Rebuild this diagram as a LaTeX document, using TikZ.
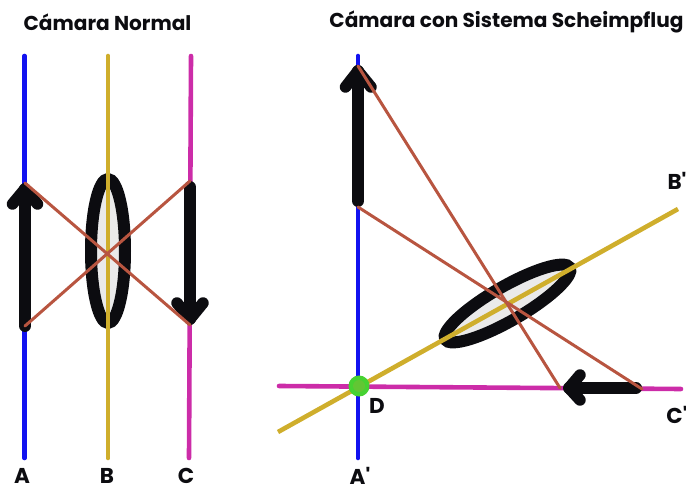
\documentclass[tikz,border=0pt]{standalone}
\usepackage{fontspec}
\setmainfont{Poppins}[Ligatures=TeXOff]
\usetikzlibrary{shapes.geometric}
\definecolor{cblue}{HTML}{1212F0}
\definecolor{cyellow}{HTML}{CFAE2C}
\definecolor{cmag}{HTML}{CC2CA8}
\definecolor{cray}{HTML}{B85540}
\definecolor{cblack}{HTML}{0C0C10}
\definecolor{clens}{HTML}{EAEAEA}
\definecolor{cdot}{HTML}{46D232}
\definecolor{cdotin}{HTML}{62C634}
\tikzset{
 x=1pt,y=-1pt,
 axisline/.style={line width=4.6pt,line cap=round},
 ray/.style={cray,line width=3pt,line cap=round},
 shaft/.style={cblack,line width=12pt,line cap=round},
 head/.style={cblack,line width=11.5pt,line cap=round,line join=round},
 lens/.style={ellipse,draw=cblack,fill=clens,line width=12pt,inner sep=0pt,minimum width=144pt,minimum height=34pt},
 lab/.style={text=cblack,font=\bfseries\fontsize{21.5}{24}\selectfont,inner sep=0pt,anchor=center},
 ttl/.style={text=cblack,font=\bfseries\fontsize{20.1}{24}\selectfont,inner sep=0pt,anchor=center}
}
\begin{document}
\begin{tikzpicture}
\useasboundingbox (0,0) rectangle (686,489);
% left points
\coordinate (a1) at (24.5,56); \coordinate (a2) at (24.5,458);
\coordinate (b1) at (108,56); \coordinate (b2) at (108,458);
\coordinate (c1) at (191,56); \coordinate (c2) at (189,458);
\coordinate (at) at (25,326); \coordinate (ah) at (25,189);
\coordinate (ab1) at (12.5,204); \coordinate (ab2) at (37.5,204);
\coordinate (ct) at (190,187); \coordinate (ch) at (190,319);
\coordinate (cb1) at (177,303); \coordinate (cb2) at (203,303);
\coordinate (r1) at (25,183); \coordinate (r2) at (190,325);
\coordinate (r3) at (25,326); \coordinate (r4) at (190,181);
% right points
\coordinate (ra1) at (358,56); \coordinate (ra2) at (358,458);
\coordinate (rb1) at (278,432); \coordinate (rb2) at (678,209);
\coordinate (rc1) at (279,386); \coordinate (rc2) at (681,389);
\coordinate (dt) at (358,201); \coordinate (dh) at (358,71);
\coordinate (db1) at (345.5,87); \coordinate (db2) at (371,87);
\coordinate (et) at (636,388); \coordinate (eh) at (569,388);
\coordinate (eb1) at (580,375); \coordinate (eb2) at (580,400);
\coordinate (s1) at (358,66); \coordinate (s2) at (560,388);
\coordinate (s3) at (358,207); \coordinate (s4) at (642,389);
% left diagram
\draw[axisline,cblue] (a1) -- (a2);
\draw[axisline,cmag] (c1) -- (c2);
\node[lens,rotate=90] (lensL) at (108,251) {};
\draw[axisline,cyellow] (b1) -- (b2);
\draw[shaft] (at) -- (ah);
\draw[head] (ab1) -- (ah) -- (ab2);
\draw[shaft] (ct) -- (ch);
\draw[head] (cb1) -- (ch) -- (cb2);
\draw[ray] (r1) -- (r2);
\draw[ray] (r3) -- (r4);
% right diagram
\draw[axisline,cmag] (rc1) -- (rc2);
\draw[axisline,cblue] (ra1) -- (ra2);
\node[lens,rotate=30] (lensR) at (507.5,303.5) {};
\draw[axisline,cyellow,line cap=butt] (rb1) -- (rb2);
\draw[shaft] (dt) -- (dh);
\draw[head] (db1) -- (dh) -- (db2);
\draw[shaft] (et) -- (eh);
\draw[head] (eb1) -- (eh) -- (eb2);
\draw[ray] (s1) -- (s2);
\draw[ray] (s3) -- (s4);
\node[circle,fill=cdot,draw=cdot,line width=3pt,inner sep=0pt,minimum size=18pt] (dot) at (359,386) {};
\node[circle,fill=cdotin,inner sep=0pt,minimum size=12pt] (dotin) at (359,386) {};
% text
\node[ttl] (t1) at (107.5,22) {Cámara Normal};
\node[ttl] (t2) at (506.5,22) {Cámara con Sistema Scheimpflug};
\node[lab] (la) at (22,476) {A};
\node[lab] (lb) at (107,476) {B};
\node[lab] (lc) at (186,476) {C};
\node[lab] (lap) at (360,476) {A'};
\node[lab] (ld) at (377,406) {D};
\node[lab] (lbp) at (677,181) {B'};
\node[lab] (lcp) at (677,415) {C'};
\end{tikzpicture}
\end{document}
